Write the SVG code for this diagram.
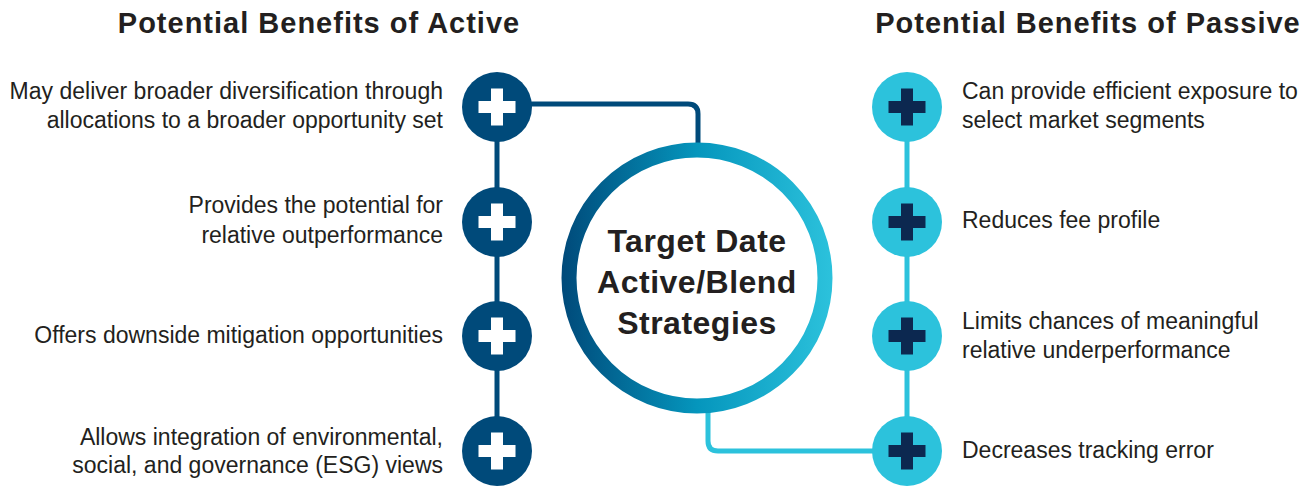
<svg xmlns="http://www.w3.org/2000/svg" width="1310" height="491" viewBox="0 0 1310 491">
  <defs>
    <linearGradient id="ringGrad" x1="562" y1="0" x2="833" y2="0" gradientUnits="userSpaceOnUse">
      <stop offset="0" stop-color="#004a7a"/>
      <stop offset="0.5" stop-color="#0596bd"/>
      <stop offset="1" stop-color="#2cc2dc"/>
    </linearGradient>
    <g id="plus">
      <rect x="-18.5" y="-6" width="37" height="12"/>
      <rect x="-6" y="-18.5" width="12" height="37"/>
    </g>
  </defs>
  <style>
    .title { font-family: "Liberation Sans", Arial, sans-serif; font-weight: bold; font-size: 29px; letter-spacing: 1px; fill: #231f20; }
    .label { font-family: "Liberation Sans", Arial, sans-serif; font-size: 23px; fill: #231f20; }
    .center { font-family: "Liberation Sans", Arial, sans-serif; font-weight: bold; font-size: 32px; letter-spacing: 0.5px; fill: #231f20; text-anchor: middle; }
    .left { text-anchor: end; }
    .dark-line { stroke: #004a7a; stroke-width: 5; fill: none; }
    .light-line { stroke: #2cc2dc; stroke-width: 5; fill: none; }
    .dark-node { fill: #004a7a; }
    .light-node { fill: #2cc2dc; }
    .dark-plus { fill: #ffffff; }
    .light-plus { fill: #0c2850; }
  </style>

  <rect width="1310" height="491" fill="#ffffff"/>

  <!-- headings -->
  <text class="title" x="319" y="33" text-anchor="middle">Potential Benefits of Active</text>
  <text class="title" x="1088" y="33" text-anchor="middle">Potential Benefits of Passive</text>

  <!-- connectors -->
  <g id="connectors">
    <line class="dark-line" x1="497" y1="107" x2="497" y2="451"/>
    <path class="dark-line" d="M497 104 H688 Q698 104 698 114 V145"/>
    <line class="light-line" x1="907" y1="107" x2="907" y2="451"/>
    <path class="light-line" d="M708 410 V441 Q708 451 718 451 H907"/>
  </g>

  <!-- central hub -->
  <g id="hub">
    <circle cx="697" cy="278" r="128" fill="#ffffff" stroke="url(#ringGrad)" stroke-width="15"/>
    <text class="center" x="697" y="252">Target Date</text>
    <text class="center" x="697" y="293">Active/Blend</text>
    <text class="center" x="697" y="334">Strategies</text>
  </g>

  <!-- active benefits -->
  <g id="active-1">
    <circle class="dark-node" cx="497" cy="107" r="35"/>
    <use href="#plus" x="497" y="107" class="dark-plus"/>
    <text class="label left" x="443" y="99">May deliver broader diversification through</text>
    <text class="label left" x="443" y="128">allocations to a broader opportunity set</text>
  </g>
  <g id="active-2">
    <circle class="dark-node" cx="497" cy="222" r="35"/>
    <use href="#plus" x="497" y="222" class="dark-plus"/>
    <text class="label left" x="443" y="213">Provides the potential for</text>
    <text class="label left" x="443" y="243">relative outperformance</text>
  </g>
  <g id="active-3">
    <circle class="dark-node" cx="497" cy="336" r="35"/>
    <use href="#plus" x="497" y="336" class="dark-plus"/>
    <text class="label left" x="443" y="343">Offers downside mitigation opportunities</text>
  </g>
  <g id="active-4">
    <circle class="dark-node" cx="497" cy="451" r="35"/>
    <use href="#plus" x="497" y="451" class="dark-plus"/>
    <text class="label left" x="443" y="445">Allows integration of environmental,</text>
    <text class="label left" x="443" y="473">social, and governance (ESG) views</text>
  </g>

  <!-- passive benefits -->
  <g id="passive-1">
    <circle class="light-node" cx="907" cy="107" r="35"/>
    <use href="#plus" x="907" y="107" class="light-plus"/>
    <text class="label" x="962" y="99">Can provide efficient exposure to</text>
    <text class="label" x="962" y="128">select market segments</text>
  </g>
  <g id="passive-2">
    <circle class="light-node" cx="907" cy="222" r="35"/>
    <use href="#plus" x="907" y="222" class="light-plus"/>
    <text class="label" x="962" y="228">Reduces fee profile</text>
  </g>
  <g id="passive-3">
    <circle class="light-node" cx="907" cy="336" r="35"/>
    <use href="#plus" x="907" y="336" class="light-plus"/>
    <text class="label" x="962" y="329">Limits chances of meaningful</text>
    <text class="label" x="962" y="358">relative underperformance</text>
  </g>
  <g id="passive-4">
    <circle class="light-node" cx="907" cy="451" r="35"/>
    <use href="#plus" x="907" y="451" class="light-plus"/>
    <text class="label" x="962" y="458">Decreases tracking error</text>
  </g>
</svg>
